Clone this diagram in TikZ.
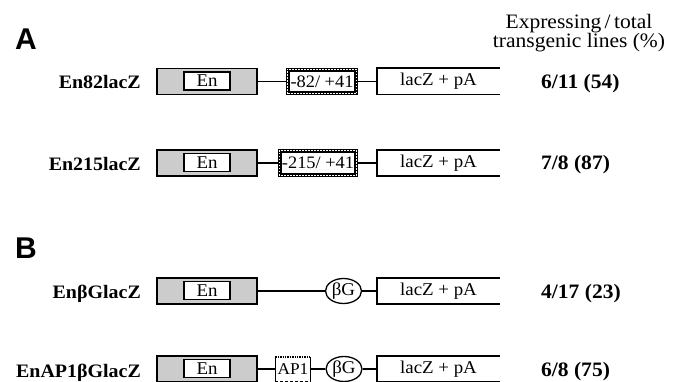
\documentclass[tikz,border=0pt]{standalone}
\usepackage{fontspec}
\setmainfont{Liberation Serif}[FakeStretch=1.05]
\newfontfamily\panelfont{Liberation Sans}
\usetikzlibrary{shapes.geometric}
\tikzset{
  enbox/.style={draw, line width=1.3pt, fill=black!20, minimum width=100pt, minimum height=26pt, inner sep=0pt},
  eninner/.style={draw, line width=1.9pt, fill=white, minimum width=46pt, minimum height=18pt, inner sep=0pt, font=\fontsize{18}{18}\selectfont},
  probox/.style={draw, line width=4pt, fill=white, minimum height=23.5pt, inner sep=0pt,
    font=\fontsize{17.5}{17.5}\selectfont},
  prodash/.style={draw=white, line width=1pt, dash pattern=on 1.5pt off 1.5pt},
  apbox/.style={fill=white, minimum width=35pt, minimum height=24pt, inner sep=0pt, font=\fontsize{16.5}{16.5}\selectfont},
  laczbox/.style={minimum width=123pt, minimum height=26pt, inner sep=0pt, font=\fontsize{18}{18}\selectfont},
  bgcirc/.style={ellipse, draw, line width=1.3pt, fill=white, minimum width=36pt, minimum height=25pt, inner sep=0pt, font=\fontsize{18}{18}\selectfont},
  link/.style={line width=1.3pt},
  boxline/.style={line width=1.6pt},
  rowlabel/.style={anchor=base east, inner sep=0pt, font=\fontsize{19}{19}\selectfont\bfseries},
  result/.style={anchor=base west, inner sep=0pt, font=\fontsize{20.5}{20.5}\selectfont\bfseries},
  panel/.style={anchor=base west, inner sep=0pt, font=\fontsize{30}{30}\selectfont\panelfont\bfseries},
}
\begin{document}
\begin{tikzpicture}[x=1pt, y=-1pt]
\useasboundingbox (0,0) rectangle (677,382);
\clip (0,0) rectangle (677,382);

% header
\node[align=center, inner sep=0pt, font=\fontsize{20.5}{16.5}\selectfont] (hdr) at (579,33) {Expressing\,/\,total\\transgenic lines (\%)};

% panel letters
\node[panel] (pA) at (15,50) {A};
\node[panel] (pB) at (15,258) {B};

% Row 1
\node[rowlabel] (l1) at (141,89) {En82lacZ};
\node[enbox] (en1) at (207,81.5) {};
\node[eninner] (ei1) at (207,81) {En};
\node[probox, minimum width=68pt] (p1) at (322,81.5) {-82/ +41};
\draw[prodash] ([shift={(1.3pt,1.3pt)}]p1.south west) rectangle ([shift={(-1.3pt,-1.3pt)}]p1.north east);
\node[laczbox] (lz1) at (438.5,81.5) {lacZ + pA};
\draw[boxline] (lz1.north east) -- (lz1.north west) -- (lz1.south west) -- (lz1.south east);
\draw[link] (en1.east) -- (p1.west);
\draw[link] (p1.east) -- (lz1.west);
\node[result] (r1) at (541,88.5) {6/11 (54)};

% Row 2
\node[rowlabel] (l2) at (141,170.5) {En215lacZ};
\node[enbox] (en2) at (207,163) {};
\node[eninner] (ei2) at (207,162.5) {En};
\node[probox, minimum width=76pt] (p2) at (318,163) {-215/ +41};
\draw[prodash] ([shift={(1.3pt,1.3pt)}]p2.south west) rectangle ([shift={(-1.3pt,-1.3pt)}]p2.north east);
\node[laczbox] (lz2) at (438.5,163) {lacZ + pA};
\draw[boxline] (lz2.north east) -- (lz2.north west) -- (lz2.south west) -- (lz2.south east);
\draw[link] (en2.east) -- (p2.west);
\draw[link] (p2.east) -- (lz2.west);
\node[result] (r2) at (541,170) {7/8 (87)};

% Row 3
\node[rowlabel] (l3) at (141,298) {EnβGlacZ};
\node[enbox] (en3) at (207,291) {};
\node[eninner] (ei3) at (207,290.5) {En};
\node[bgcirc] (c3) at (343.5,291) {βG};
\node[laczbox] (lz3) at (438.5,291) {lacZ + pA};
\draw[boxline] (lz3.north east) -- (lz3.north west) -- (lz3.south west) -- (lz3.south east);
\draw[link] (en3.east) -- (c3.west);
\draw[link] (c3.east) -- (lz3.west);
\node[result] (r3) at (541,298) {4/17 (23)};

% Row 4
\node[rowlabel] (l4) at (141,377) {EnAP1βGlacZ};
\node[enbox] (en4) at (207,369) {};
\node[eninner] (ei4) at (207,368.5) {En};
\node[apbox] (a4) at (293,369) {AP1};
\draw[line width=1.1pt] (a4.north west) -- (a4.south west);
\draw[line width=1.1pt] (a4.north east) -- (a4.south east);
\draw[line width=1.4pt, densely dotted] (a4.north west) -- (a4.north east);
\draw[line width=1pt, densely dashed] (a4.south west) -- (a4.south east);
\node[bgcirc] (c4) at (344,369) {βG};
\node[laczbox] (lz4) at (438.5,369) {lacZ + pA};
\draw[boxline] (lz4.north east) -- (lz4.north west) -- (lz4.south west) -- (lz4.south east);
\draw[link] (en4.east) -- (a4.west);
\draw[link] (a4.east) -- (c4.west);
\draw[link] (c4.east) -- (lz4.west);
\node[result] (r4) at (541,376.5) {6/8 (75)};
\end{tikzpicture}
\end{document}
